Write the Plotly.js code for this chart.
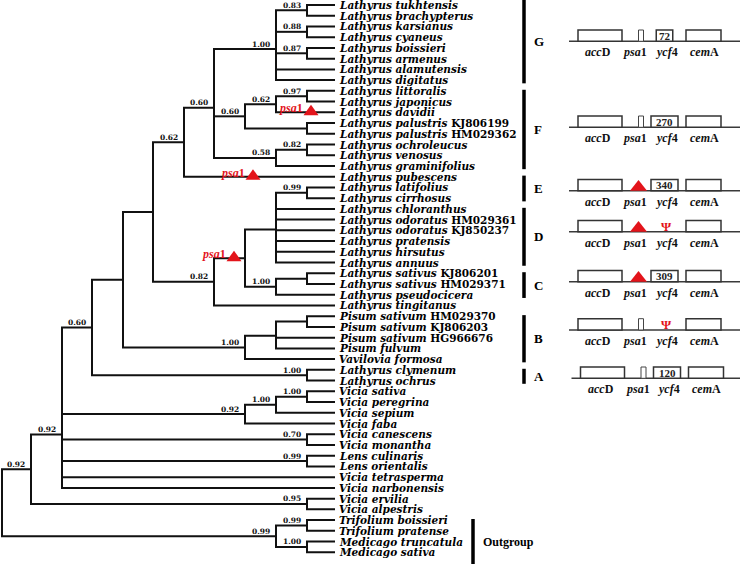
<!DOCTYPE html>
<html><head><meta charset="utf-8">
<script src="https://cdn.plot.ly/plotly-3.0.1.min.js"></script>
<style>html,body{margin:0;padding:0;background:#fff}#chart{width:740px;height:564px}</style>
</head><body><div id="chart"></div>
<script>
// ---------------- DATA ----------------
const taxa = [
 "Lathyrus tukhtensis","Lathyrus brachypterus","Lathyrus karsianus","Lathyrus cyaneus",
 "Lathyrus boissieri","Lathyrus armenus","Lathyrus alamutensis","Lathyrus digitatus",
 "Lathyrus littoralis","Lathyrus japonicus","Lathyrus davidii","Lathyrus palustris KJ806199",
 "Lathyrus palustris HM029362","Lathyrus ochroleucus","Lathyrus venosus","Lathyrus graminifolius",
 "Lathyrus pubescens","Lathyrus latifolius","Lathyrus cirrhosus","Lathyrus chloranthus",
 "Lathyrus odoratus HM029361","Lathyrus odoratus KJ850237","Lathyrus pratensis","Lathyrus hirsutus",
 "Lathyrus annuus","Lathyrus sativus KJ806201","Lathyrus sativus HM029371","Lathyrus pseudocicera",
 "Lathyrus tingitanus","Pisum sativum HM029370","Pisum sativum KJ806203","Pisum sativum HG966676",
 "Pisum fulvum","Vavilovia formosa","Lathyrus clymenum","Lathyrus ochrus",
 "Vicia sativa","Vicia peregrina","Vicia sepium","Vicia faba",
 "Vicia canescens","Vicia monantha","Lens culinaris","Lens orientalis",
 "Vicia tetrasperma","Vicia narbonensis","Vicia ervilia","Vicia alpestris",
 "Trifolium boissieri","Trifolium pratense","Medicago truncatula","Medicago sativa"
];

// topology with support values and branch lengths (Newick pieces)
const nwG  = "((Lathyrus tukhtensis:28,Lathyrus brachypterus:28)0.83:31,(Lathyrus karsianus:28,Lathyrus cyaneus:28)0.88:31,(Lathyrus boissieri:28,Lathyrus armenus:28)0.87:31,Lathyrus alamutensis:59,Lathyrus digitatus:59)1.00:62";
const nwF1 = "(((Lathyrus littoralis:28,Lathyrus japonicus:28)0.97:31,Lathyrus davidii:59)0.62:31,(Lathyrus palustris KJ806199:28,Lathyrus palustris HM029362:28):62)0.60:31";
const nwF2 = "((Lathyrus ochroleucus:28,Lathyrus venosus:28)0.82:31,Lathyrus graminifolius:59)0.58:62";
const nwDE = "((Lathyrus latifolius:28,Lathyrus cirrhosus:28)0.99:31,Lathyrus chloranthus:59,Lathyrus odoratus HM029361:59,Lathyrus odoratus KJ850237:59,Lathyrus pratensis:59,Lathyrus hirsutus:59,Lathyrus annuus:59):31";
const nwC  = "((Lathyrus sativus KJ806201:28,Lathyrus sativus HM029371:28):31,Lathyrus pseudocicera:59)1.00:31";
const nwB  = "(((Pisum sativum HM029370:28,Pisum sativum KJ806203:28):31,Pisum sativum HG966676:59,Pisum fulvum:59):31,Vavilovia formosa:90)1.00:122";
const nwVic = "(((Vicia sativa:28,Vicia peregrina:28)1.00:31,Vicia sepium:59)1.00:31,Vicia faba:90)0.92:183";
const nwOut = "((Trifolium boissieri:28,Trifolium pratense:28)0.99:31,(Medicago truncatula:28,Medicago sativa:28)1.00:31)0.99:274";

const cladeNames = ["G","F","E","D","C","B","A","Outgroup"];
const cladeFirst = ["Lathyrus tukhtensis","Lathyrus littoralis","Lathyrus pubescens","Lathyrus chloranthus","Lathyrus sativus KJ806201","Pisum sativum HM029370","Lathyrus clymenum","Trifolium boissieri"];
const cladeLast  = ["Lathyrus digitatus","Lathyrus graminifolius","Lathyrus cirrhosus","Lathyrus annuus","Lathyrus pseudocicera","Vavilovia formosa","Lathyrus ochrus","Medicago sativa"];

const diagramClades = ["G","F","E","D","C","B","A"];
const psa1State = ["present","present","lost","lost","lost","present","present"];
const ycf4State = ["72","270","340","pseudo","309","pseudo","120"];

const psaLossBranch = ["Lathyrus davidii","Lathyrus pubescens","psa"];
const psaLossDepth  = [311, 253, 234];

// ---------------- LAYOUT CONSTANTS ----------------
const W = 740, H = 564;
const ROW_PX = 10.731, FIRST_ROW_PX = 5;
const Y_TOP = -FIRST_ROW_PX / ROW_PX, Y_BOT = (H - FIRST_ROW_PX) / ROW_PX;
const px = v => v / ROW_PX;
const ROOT_X = 2, TIP_LABEL_X = 338;
const FONT = 'Liberation Serif, "Times New Roman", serif';
const WIDE = '"DejaVu Serif", "Liberation Serif", serif';
const RED = '#e3141b', INK = '#111';
const diagBaselinePx = {G:41.3, F:127.3, E:190.7, D:231.7, C:281.7, B:330, A:378.3};
const diagShift = {G:0, F:0, E:0, D:0, C:0, B:0, A:2.5};

// ---------------- TREE ----------------
function parseNewick(s) {
  let i = 0;
  function node() {
    const n = {children: [], label: '', len: 0};
    if (s[i] === '(') {
      i++;
      n.children.push(node());
      while (s[i] === ',') { i++; n.children.push(node()); }
      i++;
    }
    let st = i;
    while (i < s.length && !',():;'.includes(s[i])) i++;
    n.label = s.slice(st, i);
    if (s[i] === ':') {
      i++; st = i;
      while (i < s.length && !',();'.includes(s[i])) i++;
      n.len = parseFloat(s.slice(st, i));
    }
    return n;
  }
  return node();
}
const nwN60b = "(" + nwG + "," + nwF1 + "," + nwF2 + ")0.60:30";
const nwN62a = "(" + nwN60b + ",Lathyrus pubescens:151)0.62:31";
const nwN82  = "((" + nwDE + "," + nwC + ")psa:31,Lathyrus tingitanus:121)0.82:61";
const nwN153 = "(" + nwN62a + "," + nwN82 + "):30";
const nwN123 = "(" + nwN153 + "," + nwB + "):31";
const nwN60a = "(" + nwN123 + ",(Lathyrus clymenum:28,Lathyrus ochrus:28)1.00:215)0.60:30";
const nwN92b = "(" + nwN60a + "," + nwVic + ",(Vicia canescens:28,Vicia monantha:28)0.70:245,(Lens culinaris:28,Lens orientalis:28)0.99:245,Vicia tetrasperma:273,Vicia narbonensis:273)0.92:31";
const nwN92a = "(" + nwN92b + ",(Vicia ervilia:28,Vicia alpestris:28)0.95:276)0.92:29";
const newick = "(" + nwN92a + "," + nwOut + ");";

const root = parseNewick(newick);
const allNodes = [];
function place(n, x) {
  n.x = x + n.len;
  allNodes.push(n);
  if (n.children.length) {
    n.children.forEach(c => place(c, n.x));
    n.y = n.children.reduce((a, c) => a + c.y, 0) / n.children.length;
  } else {
    n.y = taxa.indexOf(n.label);
  }
}
place(root, ROOT_X);

const lx = [], ly = [];
allNodes.forEach(n => {
  if (!n.children.length) return;
  const f = n.children[0], l = n.children[n.children.length - 1];
  lx.push(f.x, n.x, n.x, l.x, null);
  ly.push(f.y, f.y, l.y, l.y, null);
  n.children.slice(1, -1).forEach(c => { lx.push(n.x, c.x, null); ly.push(c.y, c.y, null); });
});

const traces = [{
  x: lx, y: ly, mode: 'lines', type: 'scatter', hoverinfo: 'skip',
  line: {color: INK, width: 2}
}];

const annotations = [];
const shapes = [];
function ann(o) {
  annotations.push(Object.assign({xref: 'x', yref: 'y', showarrow: false, borderpad: 0,
    font: {family: FONT, size: 12, color: '#000'}}, o));
}

// leaf labels
allNodes.filter(n => !n.children.length).forEach(n => {
  const m = n.label.match(/^(.*?)(?:\s+([A-Z]{2}\d{6}))?$/);
  const txt = m[2] ? `<b><i>${m[1]} </i>${m[2]}</b>` : `<b><i>${m[1]}</i></b>`;
  ann({x: TIP_LABEL_X, y: n.y, text: txt, xanchor: 'left', yanchor: 'middle',
       font: {family: WIDE, size: 10.5, color: '#000'}});
});

// support values
allNodes.filter(n => n.children.length && /^\d/.test(n.label)).forEach(n => {
  ann({x: n.x - 5, y: n.y, text: `<b>${n.label}</b>`, xanchor: 'right', yanchor: 'middle',
       yshift: 5, font: {family: WIDE, size: 7.5, color: '#111'}});
});

// psa1 loss markers on the tree
psaLossBranch.forEach((b, k) => {
  const n = allNodes.find(q => q.label === b);
  const cx = psaLossDepth[k], y = n.y;
  shapes.push({type: 'path', xref: 'x', yref: 'y', fillcolor: RED, line: {width: 0},
    path: `M ${cx - 7.5} ${y + px(3)} L ${cx + 7.5} ${y + px(3)} L ${cx} ${y - px(7.5)} Z`});
  ann({x: cx - 7.5, y: y, yshift: 4, text: '<b><i>psa</i>1</b>', xanchor: 'right', yanchor: 'middle',
       font: {family: FONT, size: 12, color: RED}});
});

// clade bars
const cladeX = {def: 524, Outgroup: 473};
const bx = [], by = [];
cladeNames.forEach((c, k) => {
  let y0 = taxa.indexOf(cladeFirst[k]) - 0.1, y1 = taxa.indexOf(cladeLast[k]) + 0.3;
  if (k === 0) y0 = Y_TOP;
  if (c === 'Outgroup') y1 = Y_BOT;
  const x = c === 'Outgroup' ? cladeX.Outgroup : cladeX.def;
  bx.push(x, x, null); by.push(y0, y1, null);
  ann({x: x + 9, y: (y0 + y1) / 2, text: `<b>${c}</b>`, xanchor: 'left', yanchor: 'middle',
       font: {family: FONT, size: c === 'Outgroup' ? 12 : 13, color: '#000'}});
});
traces.push({x: bx, y: by, mode: 'lines', type: 'scatter', hoverinfo: 'skip', line: {color: '#000', width: 3.5}});

// gene diagrams
const geneLabels = ['<b><i>acc</i>D</b>', '<b><i>psa</i>1</b>', '<b><i>ycf</i>4</b>', '<b><i>cem</i>A</b>'];
const geneLabelX = [598, 635, 666, 704];
const boxLine = {color: '#333', width: 1.5};
diagramClades.forEach((c, k) => {
  const b = (diagBaselinePx[c] - FIRST_ROW_PX) / ROW_PX;
  const s = diagShift[c];
  const top = b - px(11.3);
  shapes.push({type: 'line', xref: 'x', yref: 'y', x0: 569 + s, x1: W, y0: b, y1: b, line: {color: '#3a3a3a', width: 1.5}});
  shapes.push({type: 'rect', xref: 'x', yref: 'y', x0: 578 + s, x1: 622 + s, y0: top, y1: b, line: boxLine, fillcolor: '#fff'});
  shapes.push({type: 'rect', xref: 'x', yref: 'y', x0: 686 + s, x1: 721 + s, y0: top, y1: b, line: boxLine, fillcolor: '#fff'});
  if (psa1State[k] === 'present') {
    shapes.push({type: 'rect', xref: 'x', yref: 'y', x0: 638.5 + s, x1: 643.5 + s, y0: top, y1: b, line: {color: '#444', width: 1}, fillcolor: '#fff'});
  } else {
    shapes.push({type: 'path', xref: 'x', yref: 'y', fillcolor: RED, line: {width: 0},
      path: `M ${630 + s} ${b} L ${647 + s} ${b} L ${638.5 + s} ${b - px(10.7)} Z`});
  }
  const st = ycf4State[k];
  if (st === 'pseudo') {
    ann({x: 666 + s, y: b - px(5.5), text: '<b>Ψ</b>', xanchor: 'center', yanchor: 'middle',
         font: {family: FONT, size: 13, color: RED}});
  } else {
    const w = st.length === 2 ? 16.5 : 27;
    const cx = 664.5 + s;
    shapes.push({type: 'rect', xref: 'x', yref: 'y', x0: cx - w / 2, x1: cx + w / 2, y0: top, y1: b, line: boxLine, fillcolor: '#fff'});
    ann({x: cx, y: b - px(5.6), text: `<b>${st}</b>`, xanchor: 'center', yanchor: 'middle',
         font: {family: FONT, size: 11, color: '#222'}});
  }
  geneLabels.forEach((g, j) => {
    ann({x: geneLabelX[j] + s, y: b + px(11), text: g, xanchor: 'center', yanchor: 'middle',
         font: {family: FONT, size: 12, color: '#111'}});
  });
});

const layout = {
  width: W, height: H, margin: {l: 0, r: 0, t: 0, b: 0}, autosize: false,
  paper_bgcolor: '#fff', plot_bgcolor: '#fff', showlegend: false,
  xaxis: {range: [0, W], visible: false, fixedrange: true},
  yaxis: {range: [Y_BOT, Y_TOP], visible: false, fixedrange: true},
  shapes: shapes, annotations: annotations
};
Plotly.newPlot('chart', traces, layout, {displayModeBar: false, staticPlot: true});
</script></body></html>
